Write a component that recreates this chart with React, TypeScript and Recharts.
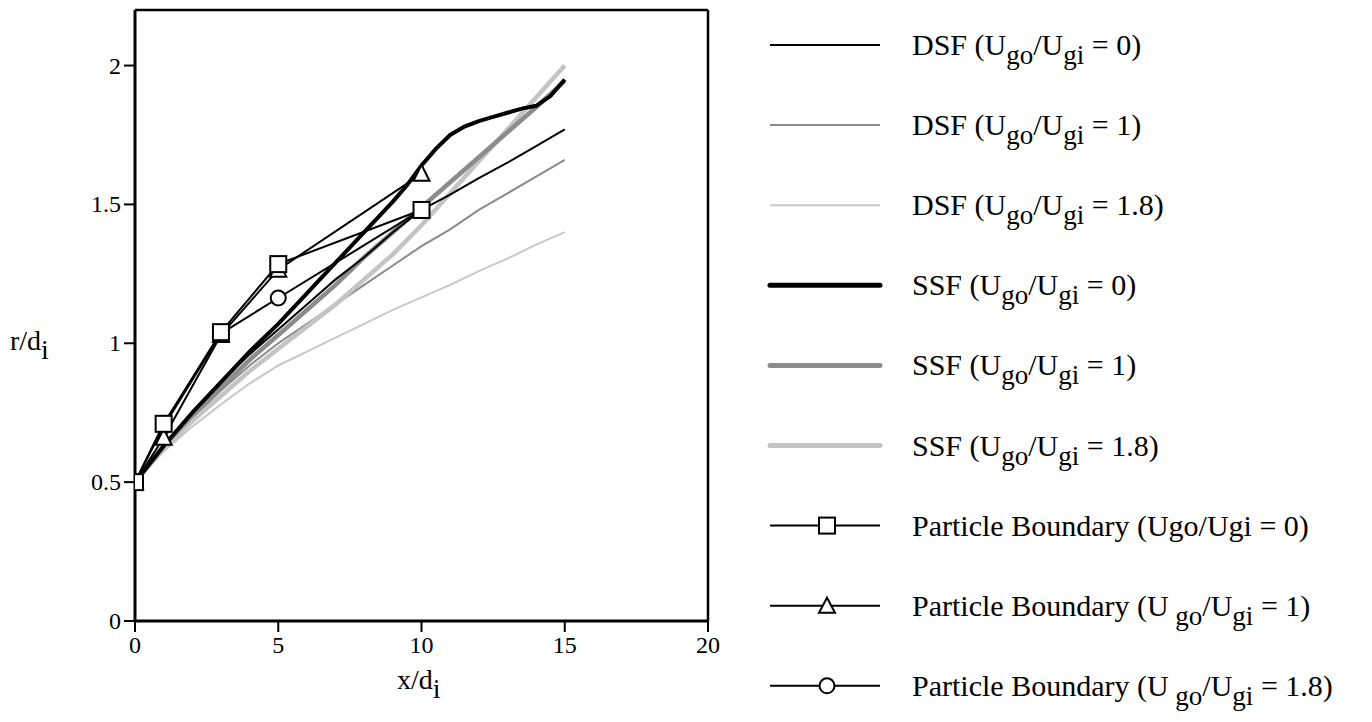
import React from 'react';
import { LineChart, Line, XAxis, YAxis, ReferenceLine } from 'recharts';

const xCurve = [0, 1, 2, 3, 4, 5, 6, 7, 8, 9, 10, 11, 12, 13, 14, 15];
const dsf0 = [0.5, 0.63, 0.75, 0.86, 0.96, 1.05, 1.14, 1.23, 1.31, 1.4, 1.48, 1.535, 1.595, 1.65, 1.71, 1.77];
const dsf1 = [0.5, 0.62, 0.73, 0.83, 0.92, 1.0, 1.07, 1.14, 1.21, 1.28, 1.35, 1.41, 1.48, 1.54, 1.6, 1.66];
const dsf18 = [0.5, 0.61, 0.7, 0.78, 0.855, 0.92, 0.97, 1.02, 1.07, 1.12, 1.165, 1.21, 1.26, 1.305, 1.355, 1.4];
const xSsf0 = [0, 1, 2, 3, 4, 5, 6, 7, 8, 9, 9.5, 10, 10.5, 11, 11.5, 12, 12.5, 13, 13.5, 14, 14.5, 15];
const ssf0 = [0.5, 0.63, 0.75, 0.86, 0.97, 1.07, 1.18, 1.29, 1.4, 1.51, 1.57, 1.64, 1.7, 1.75, 1.78, 1.8, 1.815, 1.83, 1.845, 1.855, 1.89, 1.95];
const ssf1 = [0.5, 0.63, 0.74, 0.84, 0.94, 1.03, 1.12, 1.21, 1.31, 1.4, 1.49, 1.58, 1.67, 1.76, 1.85, 1.945];
const ssf18 = [0.5, 0.62, 0.72, 0.81, 0.9, 0.98, 1.06, 1.14, 1.23, 1.32, 1.425, 1.54, 1.655, 1.77, 1.885, 2.0];
const xParticle = [0, 1, 3, 5, 10];
const pb0 = [0.5, 0.71, 1.04, 1.285, 1.48];
const pb1 = [0.5, 0.66, 1.03, 1.265, 1.61];
const pb18 = [0.5, 0.7, 1.035, 1.163, 1.48];

const xTicks = [0, 5, 10, 15, 20];
const yTicks = [0, 0.5, 1, 1.5, 2];
const yTickLabels = ['0', '0.5', '1', '1.5', '2'];

const FONT = '"Liberation Serif", "Times New Roman", serif';

const toData = (xs: number[], ys: number[]) => xs.map((x, i) => ({ x, y: ys[i] }));

const XTick = (props: any) => {
  const { x, y, payload } = props;
  return (
    <text x={x} y={y + 19} textAnchor="middle" fontSize={24} fontFamily={FONT} fill="#000">
      {String(payload.value)}
    </text>
  );
};
const YTick = (props: any) => {
  const { x, y, payload } = props;
  const i = yTicks.indexOf(payload.value);
  return (
    <text x={x} y={y + 8} textAnchor="end" fontSize={24} fontFamily={FONT} fill="#000">
      {i >= 0 ? yTickLabels[i] : String(payload.value)}
    </text>
  );
};

const SquareDot = (props: any) => {
  const { cx, cy } = props;
  if (cx == null || cy == null) return null;
  return <rect x={cx - 8} y={cy - 8} width={16} height={16} fill="#fff" stroke="#000" strokeWidth={2} />;
};
const TriangleDot = (props: any) => {
  const { cx, cy } = props;
  if (cx == null || cy == null) return null;
  return (
    <polygon
      points={`${cx},${cy - 9} ${cx - 8},${cy + 7} ${cx + 8},${cy + 7}`}
      fill="#fff"
      stroke="#000"
      strokeWidth={2}
    />
  );
};
const CircleDot = (props: any) => {
  const { cx, cy } = props;
  if (cx == null || cy == null) return null;
  return <circle cx={cx} cy={cy} r={7.5} fill="#fff" stroke="#000" strokeWidth={2} />;
};

type Part = { t: string; sub?: boolean };
const legendItems: { parts: Part[]; stroke: string; width: number; marker?: string }[] = [
  { parts: [{ t: 'DSF (U' }, { t: 'go', sub: true }, { t: '/U' }, { t: 'gi', sub: true }, { t: ' = 0)' }], stroke: '#000', width: 2 },
  { parts: [{ t: 'DSF (U' }, { t: 'go', sub: true }, { t: '/U' }, { t: 'gi', sub: true }, { t: ' = 1)' }], stroke: '#8a8a8a', width: 2 },
  { parts: [{ t: 'DSF (U' }, { t: 'go', sub: true }, { t: '/U' }, { t: 'gi', sub: true }, { t: ' = 1.8)' }], stroke: '#c8c8c8', width: 2 },
  { parts: [{ t: 'SSF (U' }, { t: 'go', sub: true }, { t: '/U' }, { t: 'gi', sub: true }, { t: ' = 0)' }], stroke: '#000', width: 5 },
  { parts: [{ t: 'SSF (U' }, { t: 'go', sub: true }, { t: '/U' }, { t: 'gi', sub: true }, { t: ' = 1)' }], stroke: '#8c8c8c', width: 5 },
  { parts: [{ t: 'SSF (U' }, { t: 'go', sub: true }, { t: '/U' }, { t: 'gi', sub: true }, { t: ' = 1.8)' }], stroke: '#c4c4c4', width: 5 },
  { parts: [{ t: 'Particle Boundary (Ugo/Ugi = 0)' }], stroke: '#000', width: 2, marker: 'square' },
  { parts: [{ t: 'Particle Boundary (U' }, { t: ' go', sub: true }, { t: '/U' }, { t: 'gi', sub: true }, { t: ' = 1)' }], stroke: '#000', width: 2, marker: 'triangle' },
  { parts: [{ t: 'Particle Boundary (U' }, { t: ' go', sub: true }, { t: '/U' }, { t: 'gi', sub: true }, { t: ' = 1.8)' }], stroke: '#000', width: 2, marker: 'circle' },
];

const renderParts = (parts: Part[], main: number, sub: number, shift: number) => {
  let down = false;
  return parts.map((p, i) => {
    let dy = 0;
    if (p.sub && !down) { dy = shift; down = true; }
    else if (!p.sub && down) { dy = -shift; down = false; }
    return (
      <tspan key={i} dy={dy} fontSize={p.sub ? sub : main}>{p.t}</tspan>
    );
  });
};

export default function App() {
  return (
    <div style={{ position: 'absolute', left: 0, top: 0, width: 1372, height: 722, background: '#fff' }}>
      <LineChart width={720} height={722} margin={{ top: 10, right: 12, left: 0, bottom: 41 }}>
        <XAxis
          type="number"
          dataKey="x"
          domain={[0, 20]}
          ticks={xTicks}
          allowDataOverflow
          height={60}
          tickSize={11}
          tickMargin={2}
          axisLine={{ stroke: '#000', strokeWidth: 3 }}
          tickLine={{ stroke: '#000', strokeWidth: 2 }}
          tick={<XTick />}
        />
        <YAxis
          type="number"
          dataKey="y"
          domain={[0, 2.2]}
          ticks={yTicks}
          allowDataOverflow
          width={135}
          tickSize={11}
          tickMargin={3}
          axisLine={{ stroke: '#000', strokeWidth: 3 }}
          tickLine={{ stroke: '#000', strokeWidth: 2 }}
          tick={<YTick />}
        />
        <ReferenceLine y={2.2} stroke="#000" strokeWidth={2.5} />
        <ReferenceLine x={20} stroke="#000" strokeWidth={2.5} />
        <Line data={toData(xCurve, dsf18)} dataKey="y" stroke="#c8c8c8" strokeWidth={2} dot={false} isAnimationActive={false} />
        <Line data={toData(xCurve, dsf1)} dataKey="y" stroke="#8a8a8a" strokeWidth={2} dot={false} isAnimationActive={false} />
        <Line data={toData(xCurve, ssf18)} dataKey="y" stroke="#c4c4c4" strokeWidth={4.5} dot={false} isAnimationActive={false} />
        <Line data={toData(xCurve, ssf1)} dataKey="y" stroke="#8c8c8c" strokeWidth={4.5} dot={false} isAnimationActive={false} />
        <Line data={toData(xCurve, dsf0)} dataKey="y" stroke="#000" strokeWidth={2} dot={false} isAnimationActive={false} />
        <Line data={toData(xSsf0, ssf0)} dataKey="y" stroke="#000" strokeWidth={4} dot={false} isAnimationActive={false} />
        <Line data={toData(xParticle, pb18)} dataKey="y" stroke="#000" strokeWidth={2} dot={<CircleDot />} isAnimationActive={false} />
        <Line data={toData(xParticle, pb1)} dataKey="y" stroke="#000" strokeWidth={2} dot={<TriangleDot />} isAnimationActive={false} />
        <Line data={toData(xParticle, pb0)} dataKey="y" stroke="#000" strokeWidth={2} dot={<SquareDot />} isAnimationActive={false} />
      </LineChart>
      <svg width={1372} height={722} style={{ position: 'absolute', left: 0, top: 0, pointerEvents: 'none' }}>
        <text x={10} y={350} fontFamily={FONT} fill="#000">
          {renderParts([{ t: 'r/d' }, { t: 'i', sub: true }], 28, 28, 9)}
        </text>
        <text x={397} y={689} fontFamily={FONT} fill="#000">
          {renderParts([{ t: 'x/d' }, { t: 'i', sub: true }], 28, 28, 9)}
        </text>
        {legendItems.map((it, i) => {
          const y = 45 + i * 80.1;
          return (
            <g key={i}>
              <line x1={770} x2={880} y1={y} y2={y} stroke={it.stroke} strokeWidth={it.width} strokeLinecap={it.width > 3 ? 'round' : 'butt'} />
              {it.marker === 'square' && <rect x={819} y={y - 8} width={16} height={16} fill="#fff" stroke="#000" strokeWidth={2} />}
              {it.marker === 'triangle' && (
                <polygon points={`${827},${y - 8} ${819},${y + 7} ${835},${y + 7}`} fill="#fff" stroke="#000" strokeWidth={2} />
              )}
              {it.marker === 'circle' && <circle cx={827} cy={y} r={7.5} fill="#fff" stroke="#000" strokeWidth={2} />}
              <text x={912} y={y + 10} fontFamily={FONT} fill="#000">
                {renderParts(it.parts, 30, 27, 9)}
              </text>
            </g>
          );
        })}
      </svg>
    </div>
  );
}
